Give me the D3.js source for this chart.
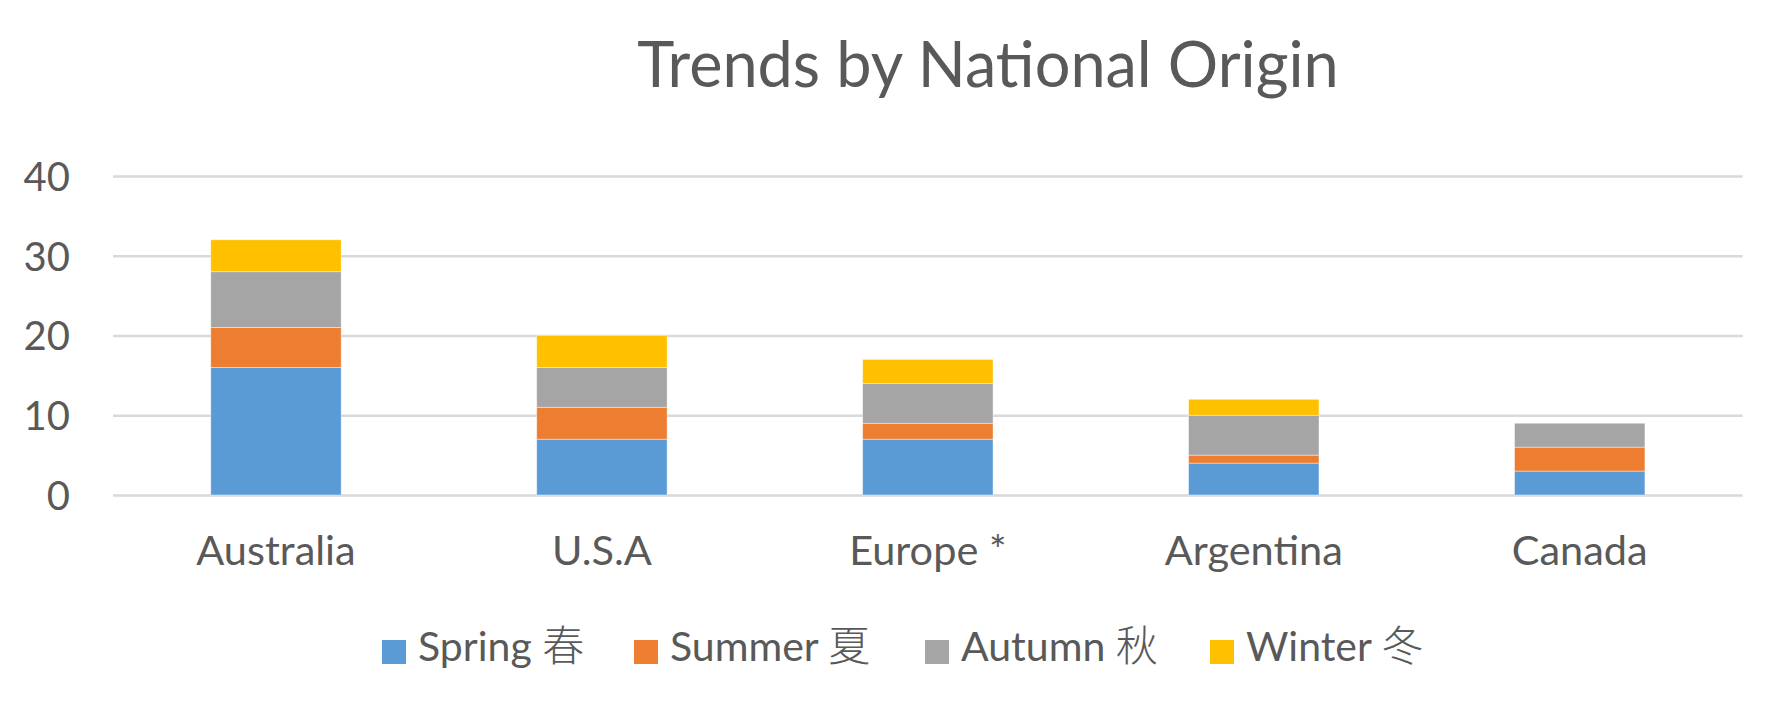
<!DOCTYPE html>
<html>
<head>
<meta charset="utf-8">
<script src="https://cdn.jsdelivr.net/npm/d3@7"></script>
<style>
  html, body { margin: 0; padding: 0; background: #fff; }
  svg { display: block; }
  text { font-family: Lato, "Noto Sans CJK SC", sans-serif; fill: #595959; }
</style>
</head>
<body>
<svg id="chart" width="1791" height="711"></svg>
<script>
const title = "Trends by National Origin";
const categories = ["Australia", "U.S.A", "Europe *", "Argentina", "Canada"];
const seriesNames = ["Spring", "Summer", "Autumn", "Winter"];
const seriesCJK = ["春", "夏", "秋", "冬"];
const spring = [16, 7, 7, 4, 3];
const summer = [5, 4, 2, 1, 3];
const autumn = [7, 5, 5, 5, 3];
const winter = [4, 4, 3, 2, 0];
const yTicks = [0, 10, 20, 30, 40];
const colors = ["#5B9BD5", "#ED7D31", "#A5A5A5", "#FFC000"];

const seriesValues = [spring, summer, autumn, winter];
const rows = categories.map((c, i) => {
  const r = { category: c };
  seriesNames.forEach((s, j) => { r[s] = seriesValues[j][i]; });
  return r;
});

const svg = d3.select("#chart");
const W = 1791, H = 711;
svg.append("rect").attr("width", W).attr("height", H).attr("fill", "#fff");

const plot = { left: 113, right: 1742.7, top: 176, bottom: 495 };

const x = d3.scaleBand()
  .domain(categories)
  .range([plot.left, plot.right])
  .paddingInner(0.6)
  .paddingOuter(0.3);

const y = d3.scaleLinear()
  .domain([0, 40])
  .range([plot.bottom, plot.top]);

// Title
svg.append("text")
  .attr("x", 988)
  .attr("y", 87)
  .attr("text-anchor", "middle")
  .style("font-size", "63px")
  .text(title);

// Gridlines
const grid = svg.append("g")
  .attr("transform", `translate(${plot.left},0)`)
  .call(d3.axisLeft(y).tickValues(yTicks).tickSize(-(plot.right - plot.left)).tickFormat(""));
grid.select(".domain").remove();
grid.selectAll(".tick line").attr("stroke", "#D9D9D9").attr("stroke-width", 2.6);

// Y tick labels
const yAxis = svg.append("g")
  .attr("transform", `translate(70,0)`)
  .call(d3.axisLeft(y).tickValues(yTicks).tickSize(0).tickPadding(0));
yAxis.select(".domain").remove();
yAxis.selectAll(".tick text")
  .attr("fill", "#595959")
  .style("font-family", "Lato, sans-serif")
  .style("font-size", "40px")
  .attr("dy", "0.36em");

// Stacked bars
const stack = d3.stack().keys(seriesNames);
const stacked = stack(rows);

svg.append("g").selectAll("g")
  .data(stacked)
  .join("g")
  .attr("fill", (d, i) => colors[i])
  .selectAll("rect")
  .data(d => d.filter(s => s[1] - s[0] > 0))
  .join("rect")
  .attr("x", d => x(d.data.category))
  .attr("width", x.bandwidth())
  .attr("y", d => y(d[1]))
  .attr("height", d => y(d[0]) - y(d[1]))
  .attr("stroke", "#ffffff")
  .attr("stroke-opacity", 0.5)
  .attr("stroke-width", 0.8);

// X axis labels
const xAxis = svg.append("g")
  .attr("transform", `translate(0,${plot.bottom})`)
  .call(d3.axisBottom(x).tickSize(0).tickPadding(0));
xAxis.select(".domain").remove();
xAxis.selectAll(".tick text")
  .attr("fill", "#595959")
  .attr("y", 70)
  .attr("dy", 0)
  .style("font-family", "Lato, sans-serif")
  .style("font-size", "41.5px");

// Legend (layout positions of the legend entries)
const legendX = [382, 634, 925, 1210];
const legend = svg.append("g");
seriesNames.forEach((s, i) => {
  const lx = legendX[i];
  const g = legend.append("g");
  g.append("rect")
    .attr("x", lx).attr("y", 640)
    .attr("width", 24).attr("height", 24)
    .attr("fill", colors[i]);
  const t = g.append("text")
    .attr("x", lx + 36)
    .attr("y", 661)
    .style("font-size", "41px");
  t.append("tspan").text(s + " ");
  t.append("tspan")
    .style("font-family", "'Noto Sans CJK SC', sans-serif")
    .style("font-weight", "300")
    .style("font-size", "42px")
    .text(seriesCJK[i]);
});
</script>
</body>
</html>
